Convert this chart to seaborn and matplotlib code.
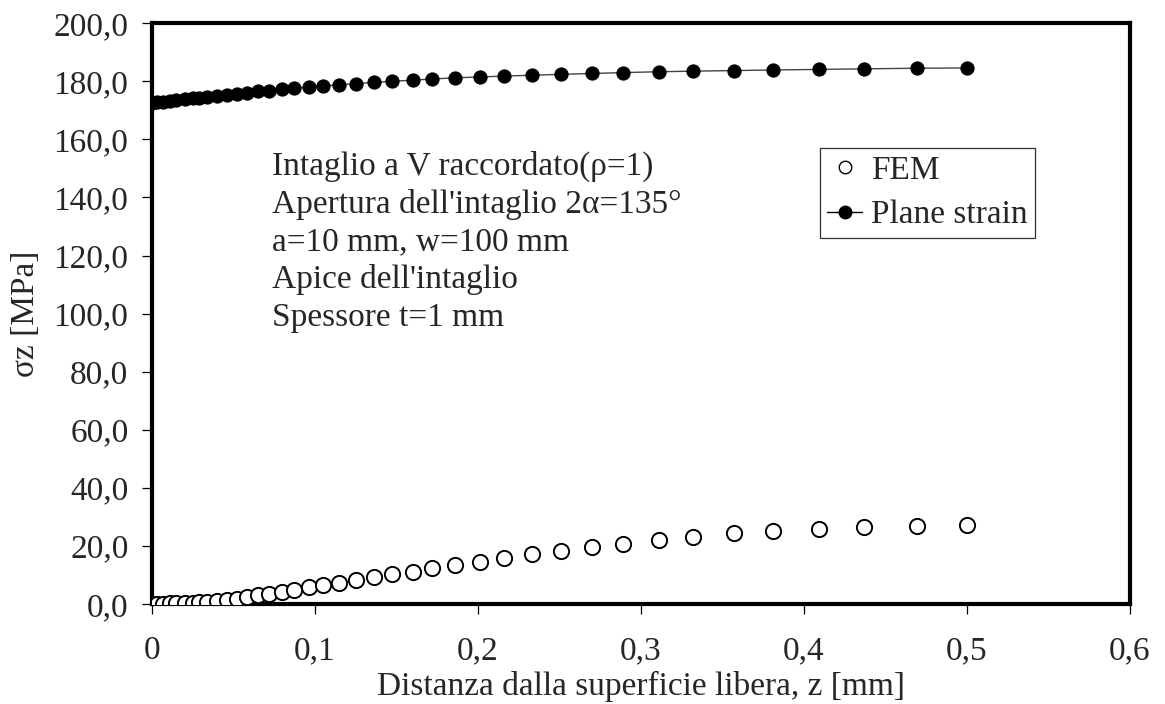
import matplotlib
matplotlib.use("Agg")
import matplotlib.pyplot as plt
from matplotlib.lines import Line2D
from matplotlib.ticker import FuncFormatter
import pandas as pd
import seaborn as sns

# distanza dalla superficie libera z [mm]
z = [0.000, 0.003, 0.007, 0.011, 0.015, 0.020, 0.025, 0.029, 0.034, 0.040,
     0.046, 0.052, 0.058, 0.065, 0.072, 0.080, 0.087, 0.096, 0.105, 0.115,
     0.125, 0.136, 0.147, 0.160, 0.172, 0.186, 0.201, 0.216, 0.233, 0.251,
     0.270, 0.289, 0.311, 0.332, 0.357, 0.381, 0.409, 0.437, 0.469, 0.500]

fem = [0.0, 0.05, 0.1, 0.2, 0.3, 0.4, 0.5, 0.65, 0.85, 1.1,
       1.4, 1.9, 2.4, 3.0, 3.6, 4.3, 5.0, 5.8, 6.6, 7.4,
       8.3, 9.2, 10.2, 11.2, 12.3, 13.4, 14.6, 15.9, 17.1, 18.3,
       19.6, 20.8, 22.0, 23.1, 24.3, 25.2, 26.0, 26.6, 27.0, 27.2]

plane_strain = [172.6, 172.8, 173.0, 173.3, 173.5, 173.8, 174.1, 174.4, 174.7, 175.0,
                175.4, 175.7, 176.1, 176.5, 176.8, 177.2, 177.6, 178.0, 178.4, 178.8,
                179.2, 179.6, 180.0, 180.4, 180.8, 181.2, 181.5, 181.8, 182.1, 182.4,
                182.7, 183.0, 183.3, 183.5, 183.7, 183.9, 184.1, 184.3, 184.5, 184.6]

note_lines = ["Intaglio a V raccordato(\u03c1=1)",
              "Apertura dell'intaglio 2\u03b1=135\u00b0",
              "a=10 mm, w=100 mm",
              "Apice dell'intaglio",
              "Spessore t=1 mm"]

df = pd.DataFrame({"z": z, "FEM": fem, "Plane strain": plane_strain})

sns.set_style("white")
plt.rcParams["font.family"] = ["Liberation Serif", "DejaVu Serif"]

FS = 24

fig, ax = plt.subplots(figsize=(11.65, 7.04), dpi=100)
fig.subplots_adjust(left=0.1305, right=0.970, bottom=0.142, top=0.967)

sns.lineplot(data=df, x="z", y="Plane strain", ax=ax, color="#444444", linewidth=1.0,
             marker="o", markersize=9.5, markerfacecolor="black",
             markeredgecolor="black", zorder=2)
sns.scatterplot(data=df, x="z", y="FEM", ax=ax, s=120, marker="o",
                facecolor="white", edgecolor="black", linewidth=1.4, zorder=3)

ax.set_xlim(0, 0.6)
ax.set_ylim(0, 200)
ax.set_xticks([0, 0.1, 0.2, 0.3, 0.4, 0.5, 0.6])
ax.set_yticks(range(0, 201, 20))
ax.xaxis.set_major_formatter(FuncFormatter(lambda v, p: "0" if v == 0 else f"{v:.1f}".replace(".", ",")))
ax.yaxis.set_major_formatter(FuncFormatter(lambda v, p: f"{v:.1f}".replace(".", ",")))
ax.tick_params(axis="both", direction="out", length=7, width=0.9, labelsize=FS,
               color="black", bottom=True, left=True)
ax.tick_params(axis="x", pad=16)
ax.tick_params(axis="y", pad=10)

for sp in ax.spines.values():
    sp.set_linewidth(3.0)
    sp.set_color("black")

ax.set_xlabel("Distanza dalla superficie libera, z [mm]", fontsize=FS, labelpad=3)
ax.set_ylabel("\u03c3z [MPa]", fontsize=FS, labelpad=9)

ax.text(0.123, 0.78, "\n".join(note_lines), transform=ax.transAxes, fontsize=FS,
        va="top", ha="left", linespacing=1.29)

handles = [Line2D([], [], linestyle="none", marker="o", markersize=9,
                  markerfacecolor="white", markeredgecolor="black", markeredgewidth=1.0),
           Line2D([], [], color="black", linewidth=1.0, marker="o", markersize=9,
                  markerfacecolor="black", markeredgecolor="black")]
leg = ax.legend(handles, ["FEM", "Plane strain"], loc="upper left",
                bbox_to_anchor=(0.683, 0.785), borderaxespad=0, fontsize=FS,
                frameon=True, fancybox=False, framealpha=1, edgecolor="#333333",
                handlelength=1.05, handletextpad=0.27, borderpad=0.22, labelspacing=0.42)
leg.get_frame().set_linewidth(0.9)

fig.savefig("out.png", dpi=100)
